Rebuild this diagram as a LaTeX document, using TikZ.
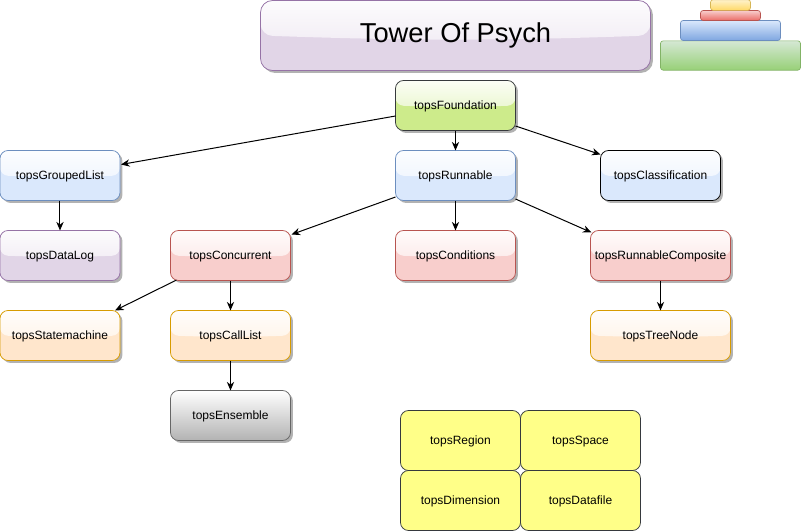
\documentclass[tikz,border=0pt]{standalone}
\usepackage{fontspec}
\setmainfont{Liberation Sans}
\usetikzlibrary{calc,shadows,arrows.meta,shadings}
\definecolor{gfill}{HTML}{CDEB8B}
\definecolor{gline}{HTML}{36393D}
\definecolor{bfill}{HTML}{DAE8FC}
\definecolor{bline}{HTML}{6C8EBF}
\definecolor{rfill}{HTML}{F8CECC}
\definecolor{rline}{HTML}{B85450}
\definecolor{ofill}{HTML}{FFE6CC}
\definecolor{oline}{HTML}{D79B00}
\definecolor{pfill}{HTML}{E1D5E7}
\definecolor{pline}{HTML}{9673A6}
\definecolor{yfill}{HTML}{FFFF88}
\definecolor{kline}{HTML}{666666}
\definecolor{t1a}{HTML}{FFF2CC}\definecolor{t1b}{HTML}{FFD966}\definecolor{t1l}{HTML}{D6B656}
\definecolor{t2a}{HTML}{F8CECC}\definecolor{t2b}{HTML}{EA6B66}
\definecolor{t3a}{HTML}{DAE8FC}\definecolor{t3b}{HTML}{7EA6E0}
\definecolor{t4a}{HTML}{D5E8D4}\definecolor{t4b}{HTML}{97D077}\definecolor{t4l}{HTML}{82B366}
\tikzset{
  base/.style={draw, rounded corners=6pt, line width=0.55pt, inner sep=0pt, outer sep=0pt,
    align=center, font=\fontsize{9}{11}\selectfont, text height=7.5pt, text depth=1.7pt,
    minimum width=90pt, minimum height=37.5pt},
  shadowed/.style={drop shadow={shadow xshift=1.8pt, shadow yshift=-1.8pt, fill=black, opacity=.3}},
  glossy/.style={fill=#1, path picture={
    \shade[top color=#1!8!white, bottom color=#1!65!white]
      (path picture bounding box.north west) -- (path picture bounding box.north east)
      -- (path picture bounding box.east) to[bend left=2] (path picture bounding box.west) -- cycle;}},
  gbox/.style 2 args={base, shadowed, glossy=#1, draw=#2},
  wide/.style={minimum width=105pt},
  note/.style={base, fill=yfill, draw=gline, minimum width=90pt, minimum height=45pt},
  tier/.style n args={3}{draw=#3, rounded corners=2pt, line width=0.5pt, inner sep=0pt, outer sep=0pt,
    top color=#1, bottom color=#2},
  link/.style={draw=black, line width=0.75pt, -{Stealth[length=6.5pt,width=5.5pt]}, shorten >=0pt}
}
\begin{document}
\begin{tikzpicture}[x=0.75pt,y=-0.75pt]
\useasboundingbox (0.5,0) rectangle (801.5,532);
% title
\node[gbox={pfill}{pline}, rounded corners=9pt, minimum width=292.5pt, minimum height=52.5pt,
      font=\fontsize{20.5}{24}\selectfont, text height=15pt, text depth=4.3pt] (title) at (456,35.5) {Tower Of Psych};
% tower
\node[tier={t4a}{t4b}{t4l}, minimum width=105pt, minimum height=22pt] (t4) at (731,55.5) {};
\node[tier={t3a}{t3b}{bline}, minimum width=75pt, minimum height=15pt] (t3) at (731,30.5) {};
\node[tier={t2a}{t2b}{rline}, minimum width=45pt, minimum height=7.5pt] (t2) at (731,15.5) {};
\node[tier={t1a}{t1b}{t1l}, minimum width=30pt, minimum height=8pt] (t1) at (731,5) {};
% classes
\node[gbox={gfill}{gline}] (foundation) at (456,105.5) {topsFoundation};
\node[gbox={bfill}{bline}] (grouped) at (60.5,175.5) {topsGroupedList};
\node[gbox={bfill}{bline}] (runnable) at (456,175.5) {topsRunnable};
\node[gbox={bfill}{black}] (classification) at (661,175.5) {topsClassification};
\node[gbox={pfill}{pline}] (datalog) at (60.5,255.5) {topsDataLog};
\node[gbox={rfill}{rline}] (concurrent) at (231,255.5) {topsConcurrent};
\node[gbox={rfill}{rline}] (conditions) at (456,255.5) {topsConditions};
\node[gbox={rfill}{rline}, wide] (composite) at (661,255.5) {topsRunnableComposite};
\node[gbox={ofill}{oline}] (statemachine) at (60.5,335.5) {topsStatemachine};
\node[gbox={ofill}{oline}] (calllist) at (231,335.5) {topsCallList};
\node[gbox={ofill}{oline}, wide] (treenode) at (661,335.5) {topsTreeNode};
\node[base, shadowed, draw=kline, top color=white, bottom color=black!30] (ensemble) at (231,415.5) {topsEnsemble};
% yellow block
\node[note] (region) at (461,440.5) {topsRegion};
\node[note] (space) at (581,440.5) {topsSpace};
\node[note] (dimension) at (461,500.5) {topsDimension};
\node[note] (datafile) at (581,500.5) {topsDatafile};
% connectors
\draw[link] ($(foundation.west)+(0,10.5)$) -- ($(grouped.east)+(1,-11)$);
\draw[link] (foundation.south) -- (runnable.north);
\draw[link] ($(foundation.east)+(0,20.5)$) -- ($(classification.west)+(0,-21)$);
\draw[link] (grouped.south) -- (datalog.north);
\draw[link] ($(runnable.west)+(0,21.5)$) -- ($(concurrent.east)+(1,-21)$);
\draw[link] (runnable.south) -- (conditions.north);
\draw[link] ($(runnable.east)+(0,23.5)$) -- ($(composite.west)+(1,-23)$);
\draw[link] (composite.south) -- (treenode.north);
\draw[link] ($(concurrent.west)+(6,24.5)$) -- ($(statemachine.east)+(-5,-25)$);
\draw[link] (concurrent.south) -- (calllist.north);
\draw[link] (calllist.south) -- (ensemble.north);
\end{tikzpicture}
\end{document}
